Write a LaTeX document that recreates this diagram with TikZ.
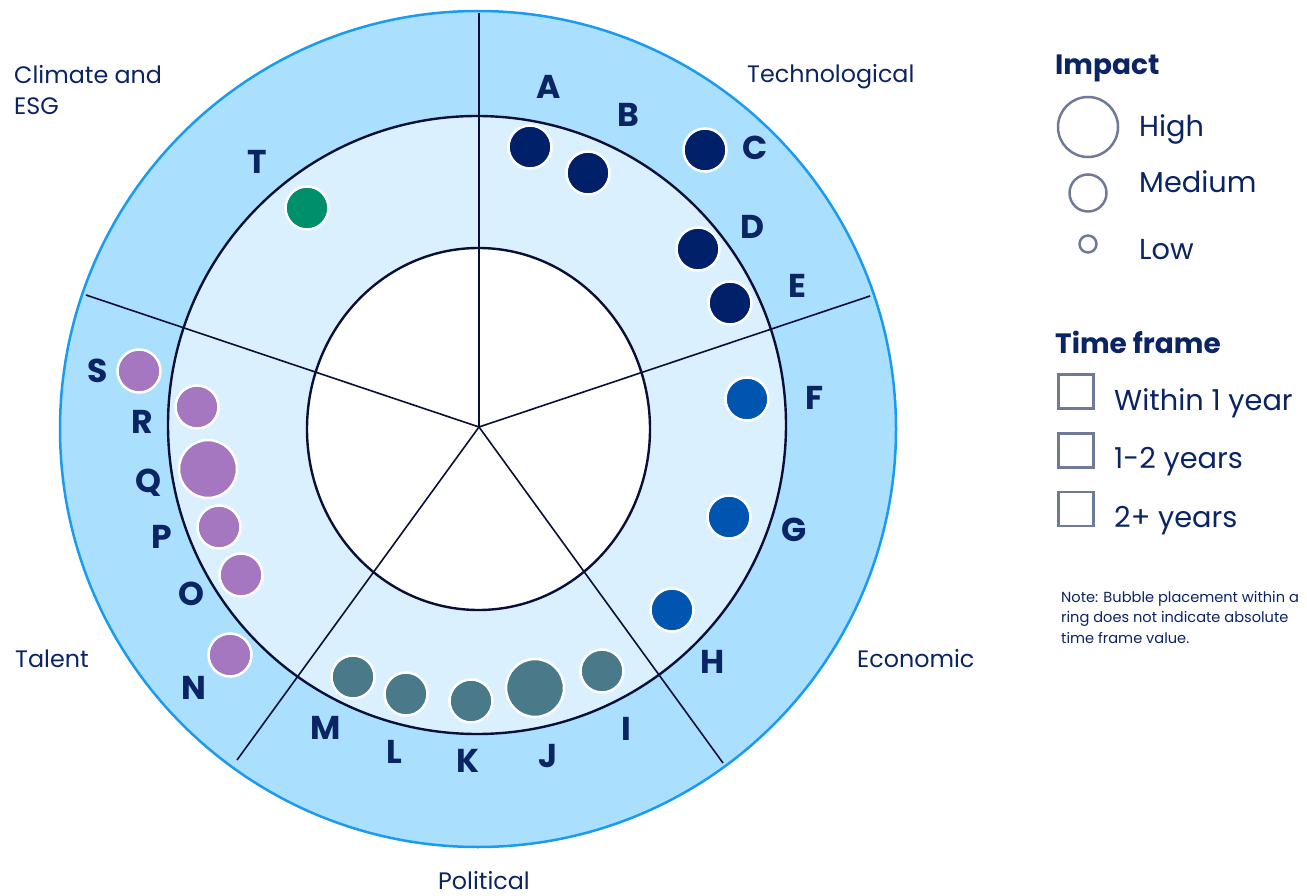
\documentclass[tikz,border=0pt]{standalone}
\usepackage{fontspec}
\setmainfont{Poppins}
\definecolor{navy}{HTML}{0B2463}
\definecolor{ringline}{HTML}{0A0F38}
\definecolor{outerfill}{HTML}{AADFFD}
\definecolor{midfill}{HTML}{DBF0FE}
\definecolor{outerline}{HTML}{1A9BF0}
\definecolor{techc}{HTML}{00206A}
\definecolor{econc}{HTML}{0055B0}
\definecolor{polc}{HTML}{4A7A8A}
\definecolor{talc}{HTML}{A577C0}
\definecolor{climc}{HTML}{008F6B}
\definecolor{legc}{HTML}{707A98}
\tikzset{
  bub/.style={circle, draw=white, line width=2.5pt, inner sep=0pt, minimum size=43pt},
  bigbub/.style={bub, minimum size=58pt},
  letter/.style={anchor=base, text=navy, font=\fontsize{33}{36}\selectfont\bfseries, inner sep=0pt},
  cat/.style={anchor=base west, text=navy, font=\fontsize{23.8}{28}\selectfont, inner sep=0pt},
  legtxt/.style={anchor=base west, text=navy, font=\fontsize{28.8}{33}\selectfont, inner sep=0pt},
  leghead/.style={anchor=base west, text=navy, font=\fontsize{28}{32}\selectfont\bfseries, inner sep=0pt},
  legcirc/.style={circle, draw=legc, line width=2.5pt, inner sep=0pt},
  legbox/.style={draw=legc, line width=2.5pt, inner sep=0pt, minimum width=35pt, minimum height=34pt},
  spoke/.style={draw=ringline, line width=1.6pt},
}
\begin{document}
\begin{tikzpicture}[x=1pt,y=-1pt]
\useasboundingbox (0,0) rectangle (1307,896);
\fill[white] (0,0) rectangle (1307,896);
% rings
\coordinate (c) at (479,427);
\filldraw[fill=outerfill, draw=outerline, line width=2.5pt] (478,429) circle[radius=418pt];
\fill[midfill] (477,425) circle[radius=309pt];
\fill[white] (478.5,429) ellipse[x radius=171.5pt, y radius=181pt];
\draw[ringline, line width=2.4pt] (477,425) circle[radius=309pt];
\draw[ringline, line width=2.4pt] (478.5,429) ellipse[x radius=171.5pt, y radius=181pt];
% spokes
\coordinate (s1) at (479,13);
\coordinate (s2) at (870,296);
\coordinate (s3) at (723,763);
\coordinate (s4) at (237,760);
\coordinate (s5) at (86,295);
\foreach \s in {s1,s2,s3,s4,s5} \draw[spoke] (c) -- (\s);
% bubbles
\node[bub, fill=techc] (bA) at (530,147) {};
\node[bub, fill=techc] (bB) at (588,173) {};
\node[bub, fill=techc] (bC) at (705,150) {};
\node[bub, fill=techc] (bD) at (698,249) {};
\node[bub, fill=techc] (bE) at (730,303) {};
\node[bub, fill=econc] (bF) at (747,399) {};
\node[bub, fill=econc] (bG) at (729,517) {};
\node[bub, fill=econc] (bH) at (672,610) {};
\node[bub, fill=polc] (bI) at (602,671) {};
\node[bigbub, fill=polc] (bJ) at (535,688) {};
\node[bub, fill=polc] (bK) at (471,701) {};
\node[bub, fill=polc] (bL) at (406,694) {};
\node[bub, fill=polc] (bM) at (353,677) {};
\node[bub, fill=talc] (bN) at (230,655) {};
\node[bub, fill=talc] (bO) at (241,575) {};
\node[bub, fill=talc] (bP) at (219,527) {};
\node[bigbub, fill=talc] (bQ) at (208,469) {};
\node[bub, fill=talc] (bR) at (197,407) {};
\node[bub, fill=talc] (bS) at (139,371) {};
\node[bub, fill=climc] (bT) at (307,208) {};
% letters (baseline = centre + 12)
\node[letter] (lA) at (549,99) {A};
\node[letter] (lB) at (628,127) {B};
\node[letter] (lC) at (755,160) {C};
\node[letter] (lD) at (752,239) {D};
\node[letter] (lE) at (797,298) {E};
\node[letter] (lF) at (815,409) {F};
\node[letter] (lG) at (794,541) {G};
\node[letter] (lH) at (713,673) {H};
\node[letter] (lI) at (626,740) {I};
\node[letter] (lJ) at (548,767) {J};
\node[letter] (lK) at (468,772) {K};
\node[letter] (lL) at (394,763) {L};
\node[letter] (lM) at (326,739) {M};
\node[letter] (lN) at (194,699) {N};
\node[letter] (lO) at (191,605) {O};
\node[letter] (lP) at (162,548) {P};
\node[letter] (lQ) at (149,492) {Q};
\node[letter] (lR) at (142,433) {R};
\node[letter] (lS) at (98,382) {S};
\node[letter] (lT) at (257,174) {T};
% category labels
\node[cat] (climate) at (14,84) {Climate and};
\node[cat] (esg) at (14,115) {ESG};
\node[cat] (tech) at (747,83) {Technological};
\node[cat] (talent) at (15,667) {Talent};
\node[cat] (econ) at (857,667) {Economic};
\node[cat, anchor=base] (pol) at (484,889) {Political};
% legend
\node[leghead] (imp) at (1055,75) {Impact};
\node[legcirc, minimum size=60pt] (ch) at (1088,127) {};
\node[legtxt] (th) at (1139,137) {High};
\node[legcirc, minimum size=37pt] (cm) at (1088,193) {};
\node[legtxt] (tm) at (1139,193) {Medium};
\node[legcirc, minimum size=17pt] (cl) at (1088,244) {};
\node[legtxt] (tl) at (1139,260) {Low};
\node[leghead] (tf) at (1055,353) {Time frame};
\node[legbox] (b1) at (1076,391.5) {};
\node[legtxt] (t1) at (1114,410) {Within 1 year};
\node[legbox] (b2) at (1076,450.5) {};
\node[legtxt] (t2) at (1114,468) {1-2 years};
\node[legbox] (b3) at (1076,509) {};
\node[legtxt] (t3) at (1114,527) {2+ years};
\node[anchor=base west, text=navy, font=\fontsize{14.6}{20.5}\selectfont, align=left, inner sep=0pt] (note) at (1061,643)
  {Note: Bubble placement within a\\ring does not indicate absolute\\time frame value.};
\end{tikzpicture}
\end{document}
